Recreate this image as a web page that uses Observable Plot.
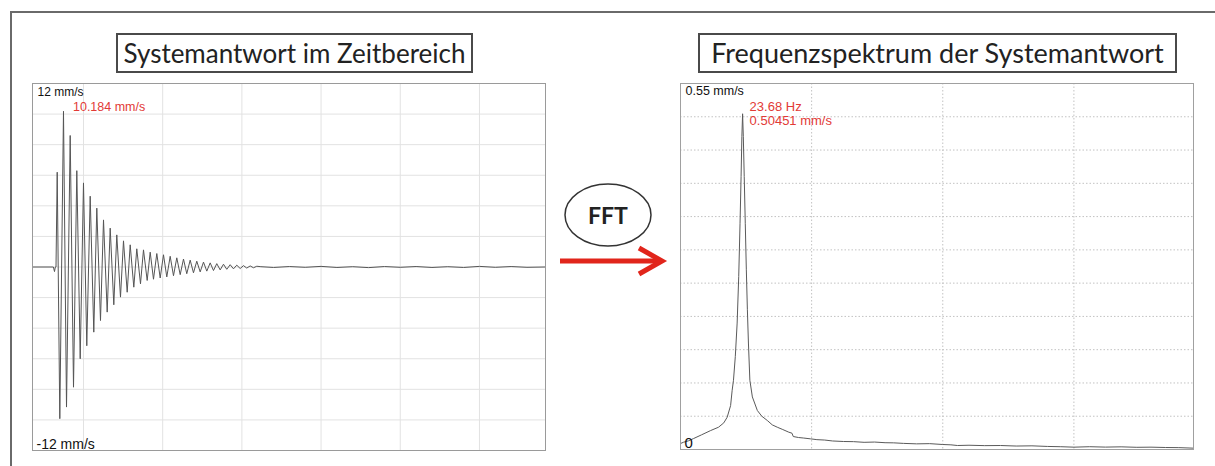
<!DOCTYPE html>
<html>
<head>
<meta charset="utf-8">
<script src="https://cdn.jsdelivr.net/npm/d3@7"></script>
<script src="https://cdn.jsdelivr.net/npm/@observablehq/plot@0.6"></script>
<style>
html,body{margin:0;padding:0;background:#fff;}
#page{position:relative;width:1215px;height:466px;overflow:hidden;background:#fff;}
.frame{position:absolute;left:10px;top:11px;width:1230px;height:480px;border-left:2px solid #6a6a6a;border-top:2px solid #6a6a6a;box-sizing:border-box;}
.title{position:absolute;top:33px;height:40px;box-sizing:border-box;border:2px solid #4a4a4a;font-family:Lato,"Open Sans",sans-serif;line-height:36px;text-align:center;color:#222;white-space:nowrap;}
.chart{position:absolute;}
#deco{position:absolute;left:540px;top:170px;}
</style>
</head>
<body>
<div id="page">
  <div class="frame"></div>
  <div class="title" id="t1" style="left:116px;width:357px;font-size:26px;"></div>
  <div class="title" id="t2" style="left:698px;width:479px;font-size:27px;"></div>
  <svg id="deco" width="140" height="120" viewBox="540 170 140 120">
    <ellipse cx="608" cy="215" rx="43" ry="31" fill="none" stroke="#333" stroke-width="1.5"/>
    <text id="fftLabel" x="608" y="223.5" text-anchor="middle" font-family="Lato, 'Open Sans', sans-serif" font-weight="bold" font-size="23" fill="#222"></text>
    <line x1="560" y1="261" x2="659" y2="261" stroke="#e1251b" stroke-width="5"/>
    <polyline points="639,248 662,261 639,274" fill="none" stroke="#e1251b" stroke-width="5" stroke-linejoin="miter"/>
  </svg>
</div>
<script>
// ---- texts ----
const titleTime = "Systemantwort im Zeitbereich";
const titleFreq = "Frequenzspektrum der Systemantwort";
const middleLabel = "FFT";

// ---- left chart: time response (extrema) ----
const timeS = [-0.322, -0.19, -0.183, -0.178, -0.1736, -0.166, -0.1496, -0.1263, -0.1073, -0.0840,
  -0.0631, -0.0423, -0.0208, 0.0, 0.0208, 0.0423, 0.0650, 0.0840, 0.1073, 0.1263,
  0.1496, 0.1686, 0.1913, 0.2102, 0.2336, 0.2525, 0.2759, 0.2948, 0.3176, 0.3365,
  0.3598, 0.3788, 0.4021, 0.4211, 0.4419, 0.4628, 0.4842, 0.5051, 0.5259, 0.5473,
  0.5682, 0.5890, 0.6105, 0.6313, 0.6521, 0.6736, 0.6944, 0.7153, 0.7367, 0.7576,
  0.7784, 0.7999, 0.8207, 0.8415, 0.8630, 0.8838, 0.9047, 0.9261, 0.9470, 0.9678,
  0.9893, 1.0101, 1.0309, 1.0524, 1.0732, 1.0941,
  1.12, 1.2, 1.3, 1.4, 1.5, 1.6, 1.7, 1.8, 1.9, 2.0, 2.1, 2.2, 2.3, 2.4, 2.5, 2.6, 2.7, 2.8, 2.917];
const velocity = [0, 0, -0.3, 0, 0, 6.2, -9.92, 10.184, -9.16, 8.6,
  -7.86, 6.3, -6.0, 5.5, -5.15, 4.63, -4.26, 3.85, -3.5, 3.08,
  -2.95, 2.54, -2.47, 2.1, -1.97, 1.71, -1.65, 1.45, -1.32, 1.19,
  -1.1, 1.12, -0.88, 0.97, -0.8, 0.88, -0.72, 0.8, -0.65, 0.7,
  -0.57, 0.6, -0.5, 0.52, -0.44, 0.45, -0.38, 0.38, -0.32, 0.32,
  -0.27, 0.27, -0.23, 0.22, -0.19, 0.18, -0.15, 0.15, -0.12, 0.12,
  -0.1, 0.09, -0.07, 0.07, -0.05, 0.05,
  0.02, -0.03, 0.03, -0.02, 0.04, -0.03, 0.02, -0.04, 0.03, -0.02, 0.03, -0.03, 0.02, -0.03, 0.04, -0.02, 0.03, -0.02, 0.0];
const timeGrid = [0, 0.5, 1.0, 1.5, 2.0, 2.5];
const velocityGrid = [-10, -8, -6, -4, -2, 0, 2, 4, 6, 8, 10];
const velocityRange = [-12, 12];
const velocityUnit = "mm/s";
const timePeakIndex = 7;

// ---- right chart: spectrum ----
const freqHz = [0, 1.2, 3, 5, 8, 11.5, 14.5, 16.5, 17.8, 19.1, 19.7, 20.2, 20.9, 21.6, 22.2, 22.7, 23.1, 23.4, 23.68,
  23.95, 24.3, 24.7, 25.1, 25.5, 25.9, 26.45, 27.4, 29.3, 31, 33.1, 35, 36.9, 39, 41.3, 42.5, 43.0, 45, 47, 49.6,
  52, 55, 58, 62.2, 66, 70, 74, 78, 81.3, 85, 90, 95, 100, 103.1, 105.6, 110, 116, 122, 128, 134, 140, 145, 150,
  156, 162, 168, 174, 179.4, 185, 190, 195.6];
const amplitude = [0.009, 0.011, 0.013, 0.0165, 0.022, 0.0285, 0.0335, 0.040, 0.0485, 0.066, 0.089, 0.104, 0.14, 0.19, 0.26, 0.34, 0.41, 0.47, 0.50451,
  0.47, 0.41, 0.34, 0.27, 0.21, 0.16, 0.104, 0.079, 0.0586, 0.050, 0.0436, 0.037, 0.0335, 0.030, 0.026, 0.0245, 0.0195, 0.018, 0.0172, 0.016,
  0.0148, 0.0142, 0.0128, 0.012, 0.0118, 0.0108, 0.0112, 0.0102, 0.010, 0.0092, 0.0085, 0.0088, 0.0075, 0.007, 0.006, 0.0064, 0.0058, 0.006, 0.0052, 0.0055, 0.0046, 0.0042, 0.0035,
  0.0042, 0.0036, 0.0040, 0.0033, 0.0035, 0.0030, 0.0028, 0.002];
const freqGrid = [50, 100, 150];
const amplitudeGrid = [0.05, 0.1, 0.15, 0.2, 0.25, 0.3, 0.35, 0.4, 0.45, 0.5];
const amplitudeRange = [0, 0.55];
const freqRange = [0, 195.6];
const freqPeakIndex = 18;

document.getElementById("t1").textContent = titleTime;
document.getElementById("t2").textContent = titleFreq;
document.getElementById("fftLabel").textContent = middleLabel;

const red = "#e23a36";
const sans = "'Liberation Sans', Arial, sans-serif";

// left chart
const timeData = timeS.map((t, i) => ({t, v: velocity[i]}));
const tp = timeData[timePeakIndex];
const left = Plot.plot({
  width: 515, height: 369,
  marginTop: 1, marginBottom: 1, marginLeft: 1, marginRight: 1,
  style: {background: "transparent", fontFamily: sans},
  x: {domain: [timeS[0], timeS[timeS.length - 1]], axis: null},
  y: {domain: velocityRange, axis: null},
  marks: [
    Plot.ruleX(timeGrid, {stroke: "#e2e2e2", strokeWidth: 1}),
    Plot.ruleY(velocityGrid, {stroke: "#e2e2e2", strokeWidth: 1}),
    Plot.line(timeData, {x: "t", y: "v", stroke: "#555", strokeWidth: 1}),
    Plot.frame({stroke: "#9a9a9a"}),
    Plot.text([`${velocityRange[1]} ${velocityUnit}`], {frameAnchor: "top-left", textAnchor: "start", lineAnchor: "top", dx: 5, dy: 4, fontSize: 12, fill: "#111"}),
    Plot.text([`${velocityRange[0]} ${velocityUnit}`], {frameAnchor: "bottom-left", textAnchor: "start", lineAnchor: "bottom", dx: 4, dy: -2, fontSize: 14, fill: "#111"}),
    Plot.text([tp], {x: "t", y: "v", text: d => `${d.v.toFixed(3)} ${velocityUnit}`, textAnchor: "start", lineAnchor: "top", dx: 9.5, dy: -9.5, fontSize: 12.5, fill: red})
  ]
});
left.classList.add("chart");
left.style.left = "31px";
left.style.top = "82px";
document.getElementById("page").appendChild(left);

// right chart
const specData = freqHz.map((f, i) => ({f, a: amplitude[i]}));
const fp = specData[freqPeakIndex];
const right = Plot.plot({
  width: 515, height: 368,
  marginTop: 1, marginBottom: 1, marginLeft: 1, marginRight: 1,
  style: {background: "transparent", fontFamily: sans},
  x: {domain: freqRange, axis: null},
  y: {domain: amplitudeRange, axis: null},
  marks: [
    Plot.ruleX(freqGrid, {stroke: "#c2c2c2", strokeWidth: 1, strokeDasharray: "1.5,2"}),
    Plot.ruleY(amplitudeGrid, {stroke: "#c2c2c2", strokeWidth: 1, strokeDasharray: "1.5,2"}),
    Plot.line(specData, {x: "f", y: "a", stroke: "#5a5a5a", strokeWidth: 1}),
    Plot.frame({stroke: "#a0a0a0"}),
    Plot.text([`${amplitudeRange[1]} ${velocityUnit}`], {frameAnchor: "top-left", textAnchor: "start", lineAnchor: "top", dx: 5, dy: 3, fontSize: 12.5, fill: "#111"}),
    Plot.text([`${amplitudeRange[0]}`], {frameAnchor: "bottom-left", textAnchor: "start", lineAnchor: "bottom", dx: 4, dy: -1.5, fontSize: 15, fill: "#111"}),
    Plot.text([fp], {x: "f", y: "a", text: d => `${d.f.toFixed(2)} Hz\n${d.a.toFixed(5)} ${velocityUnit}`, textAnchor: "start", lineAnchor: "top", lineHeight: 1.1, dx: 7, dy: -13, fontSize: 13, fill: red})
  ]
});
right.classList.add("chart");
right.style.left = "679px";
right.style.top = "82px";
document.getElementById("page").appendChild(right);
</script>
</body>
</html>
